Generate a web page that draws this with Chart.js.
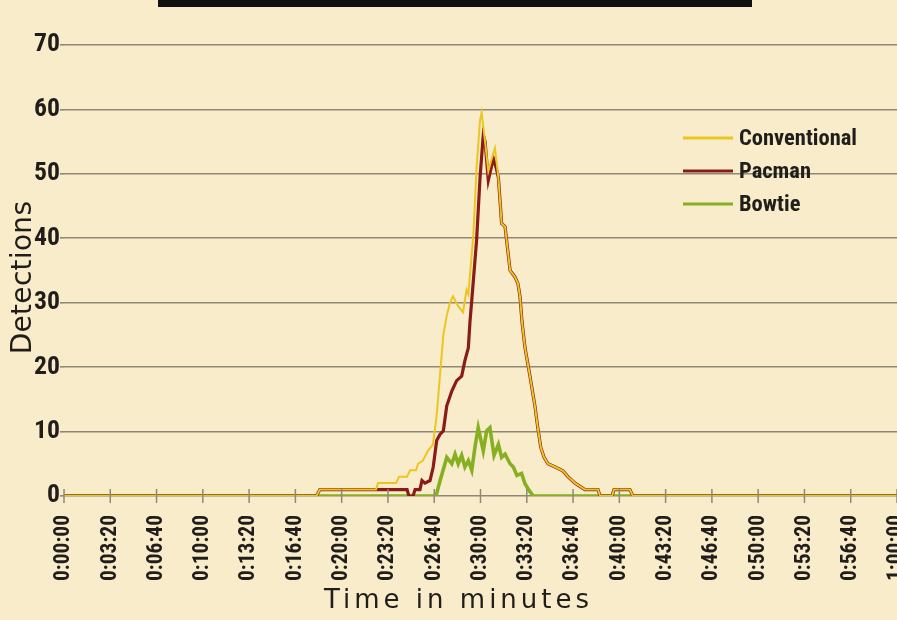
<!DOCTYPE html>
<html><head><meta charset="utf-8">
<script src="https://cdn.jsdelivr.net/npm/chart.js@4.4.1/dist/chart.umd.min.js"></script>
<style>
html,body{margin:0;padding:0;background:#f9ecca;}
#wrap{position:relative;width:897px;height:620px;overflow:hidden;background:#f9ecca;}
#banner{position:absolute;left:158px;top:0;width:594px;height:7px;background:#111;}
canvas{position:absolute;left:0;top:0;}
</style></head><body>
<div id="wrap"><canvas id="c" width="897" height="620"></canvas><div id="banner"></div></div>
<script>
// ---- data (time in seconds from start, detections) ----
const seriesNames = ['Conventional', 'Pacman', 'Bowtie'];

const conventionalTimes = [0, 1100, 1115, 1360, 1368, 1447, 1460, 1495, 1508, 1534, 1543, 1564, 1586, 1608, 1624, 1639, 1653, 1668, 1682, 1695, 1717, 1739, 1754, 1762, 1784, 1798, 1813, 1820, 1835, 1849, 1861, 1878, 1893, 1900, 1907, 1922, 1931, 1944, 1965, 1978, 1987, 1996, 2009, 2031, 2052, 2065, 2078, 2092, 2109, 2140, 2174, 2196, 2227, 2270, 2327, 2336, 2388, 2397, 2466, 2479, 3630];
const conventionalValues = [0, 0, 1, 1, 2, 2, 3, 3, 4, 4, 5, 5.5, 7, 8, 12.5, 19, 25, 28, 30, 31, 29.5, 28.5, 32, 31.3, 40.6, 51, 58.3, 59.5, 55, 50.4, 52, 54, 49.4, 45.9, 42.3, 41.8, 39, 35, 34, 33, 31, 27, 23, 18.5, 14, 10.5, 7.5, 6, 5, 4.5, 3.9, 3, 2, 1, 1, 0, 0, 1, 1, 0, 0];

const pacmanTimes = [0, 1100, 1115, 1495, 1503, 1521, 1530, 1551, 1560, 1573, 1595, 1609, 1624, 1639, 1653, 1668, 1690, 1711, 1733, 1747, 1762, 1769, 1777, 1798, 1813, 1827, 1835, 1849, 1871, 1883, 1893, 1900, 1907, 1922, 1931, 1944, 1965, 1978, 1987, 1996, 2009, 2031, 2052, 2065, 2078, 2092, 2109, 2140, 2174, 2196, 2227, 2270, 2327, 2336, 2388, 2397, 2466, 2479, 3630];
const pacmanValues = [0, 0, 1, 1, 0, 0, 1, 1, 2.4, 2, 2.4, 4.5, 8.6, 9.6, 10.1, 14, 16.3, 17.9, 18.6, 21, 23, 27, 30.4, 39.7, 49.4, 56, 55, 49, 52.4, 51, 49.4, 45.9, 42.3, 41.8, 39, 35, 34, 33, 31, 27, 23, 18.5, 14, 10.5, 7.5, 6, 5, 4.5, 3.9, 3, 2, 1, 1, 0, 0, 1, 1, 0, 0];

const bowtieTimes = [0, 1621, 1639, 1652, 1668, 1690, 1704, 1718, 1733, 1747, 1762, 1777, 1791, 1805, 1827, 1842, 1856, 1874, 1893, 1907, 1922, 1944, 1958, 1974, 1994, 2009, 2026, 2045, 3630];
const bowtieValues = [0, 0, 2.4, 4, 6, 5, 6.5, 5, 6.3, 4.5, 5.5, 4, 7.6, 10.6, 7, 10.1, 10.6, 6.3, 8, 6, 6.5, 5, 4.5, 3.2, 3.5, 1.9, 0.9, 0, 0];

const xTickLabels = ['0:00:00', '0:03:20', '0:06:40', '0:10:00', '0:13:20', '0:16:40', '0:20:00', '0:23:20', '0:26:40', '0:30:00', '0:33:20', '0:36:40', '0:40:00', '0:43:20', '0:46:40', '0:50:00', '0:53:20', '0:56:40', '1:00:00'];

// ---- fonts: pick the narrowest installed condensed face and size it to the reference ----
const mctx = document.createElement('canvas').getContext('2d');
function hasFont(name) {
  const probe = '0123456789:abcdefghABCDEFGH';
  mctx.font = '40px monospace'; const a = mctx.measureText(probe).width;
  mctx.font = "40px '" + name + "', monospace"; const b = mctx.measureText(probe).width;
  mctx.font = '40px serif'; const c = mctx.measureText(probe).width;
  mctx.font = "40px '" + name + "', serif"; const d = mctx.measureText(probe).width;
  return a !== b || c !== d;
}
const condCandidates = ['Liberation Sans Narrow', 'Roboto Condensed', 'Arial Narrow', 'Nimbus Sans Narrow', 'DejaVu Sans Condensed'];
const COND_NAME = condCandidates.find(hasFont) || 'DejaVu Sans';
const COND = "'" + COND_NAME + "', sans-serif";
function sizeFor(text, targetW, maxSize) {
  mctx.font = 'bold 100px ' + COND;
  const w = mctx.measureText(text).width;
  return Math.min(maxSize, Math.round(targetW / w * 100 * 10) / 10);
}
const X_TICK_SIZE = sizeFor('0:00:00', 66, 23);
const Y_TICK_SIZE = sizeFor('70', 26, 26);
const LEGEND_SIZE = sizeFor('Conventional', 118, 24);

const GEO = "'DejaVu Sans','Noto Sans',sans-serif";
const GRID = '#8f8878';
const INK = '#201d1a';

function pts(ts, vs) { return ts.map((t, i) => ({ x: t, y: vs[i] })); }

const crossTicks = {
  id: 'crossTicks',
  afterDatasetsDraw(chart) {
    const s = chart.scales.x, y0 = chart.scales.y.getPixelForValue(0), ctx = chart.ctx;
    ctx.save();
    ctx.strokeStyle = GRID; ctx.lineWidth = 1.5;
    s.ticks.forEach(t => {
      const x = s.getPixelForValue(t.value);
      ctx.beginPath(); ctx.moveTo(x, y0 - 7); ctx.lineTo(x, y0 + 7); ctx.stroke();
    });
    ctx.restore();
  }
};

function patchTitle(scale, dx, dy, spacing) {
  if (scale._titlePatched) return;
  const orig = scale.drawTitle.bind(scale);
  scale.drawTitle = function () {
    const ctx = this.ctx; ctx.save();
    ctx.letterSpacing = spacing;
    ctx.translate(dx, dy);
    orig();
    ctx.restore();
  };
  scale._titlePatched = true;
}
const titleTweaks = {
  id: 'titleTweaks',
  beforeDraw(chart) {
    patchTitle(chart.scales.x, -22, 0, '4px');
    patchTitle(chart.scales.y, 1, 7, '0.3px');
  }
};

const insideLegend = {
  id: 'insideLegend',
  afterDraw(chart) {
    const ctx = chart.ctx, a = chart.chartArea;
    const x0 = a.right - 214, y0 = a.top + 93, rowH = 33;
    ctx.save();
    ctx.font = 'bold ' + LEGEND_SIZE + 'px ' + COND;
    ctx.textBaseline = 'middle';
    ctx.textAlign = 'left';
    chart.data.datasets.forEach((ds, i) => {
      const y = y0 + i * rowH;
      ctx.strokeStyle = ds.borderColor;
      ctx.lineWidth = 3;
      ctx.beginPath(); ctx.moveTo(x0, y); ctx.lineTo(x0 + 50, y); ctx.stroke();
      ctx.fillStyle = INK;
      ctx.fillText(ds.label, x0 + 56, y + 1);
    });
    ctx.restore();
  }
};

new Chart(document.getElementById('c'), {
  type: 'line',
  data: {
    datasets: [
      { label: seriesNames[0], data: pts(conventionalTimes, conventionalValues), borderColor: '#ecc620', borderWidth: 2, pointRadius: 0, tension: 0 },
      { label: seriesNames[1], data: pts(pacmanTimes, pacmanValues), borderColor: '#8a1c18', borderWidth: 3.2, pointRadius: 0, tension: 0 },
      { label: seriesNames[2], data: pts(bowtieTimes, bowtieValues), borderColor: '#86b022', borderWidth: 3.6, pointRadius: 0, tension: 0 }
    ]
  },
  options: {
    responsive: false,
    animation: false,
    devicePixelRatio: 1,
    layout: { padding: { top: 45, left: 0, right: 0, bottom: 0 } },
    plugins: { legend: { display: false }, tooltip: { enabled: false } },
    scales: {
      x: {
        type: 'linear', min: 0, max: 3630,
        grid: { display: false },
        border: { display: false },
        afterFit: (s) => { s.height = 124; s.paddingLeft = 0; s.paddingRight = 0; },
        ticks: {
          stepSize: 200, includeBounds: false, autoSkip: false,
          minRotation: 90, maxRotation: 90, padding: 11,
          color: INK, font: { family: COND, size: X_TICK_SIZE, weight: 'bold' },
          callback: (v, i) => xTickLabels[i]
        },
        title: { display: true, text: 'Time in minutes', color: INK, font: { family: GEO, size: 26 }, padding: { top: 0, bottom: 3 } }
      },
      y: {
        min: 0, max: 70,
        afterFit: (s) => { s.width = 64; },
        grid: { color: GRID, lineWidth: 1.6, tickLength: 4, drawTicks: true },
        border: { display: false },
        ticks: { stepSize: 10, padding: 0, color: INK, font: { family: COND, size: Y_TICK_SIZE, weight: 'bold' } },
        title: { display: true, text: 'Detections', color: INK, font: { family: GEO, size: 28 }, padding: { top: 6, bottom: 0 } }
      }
    }
  },
  plugins: [crossTicks, titleTweaks, insideLegend]
});
</script>
</body></html>
